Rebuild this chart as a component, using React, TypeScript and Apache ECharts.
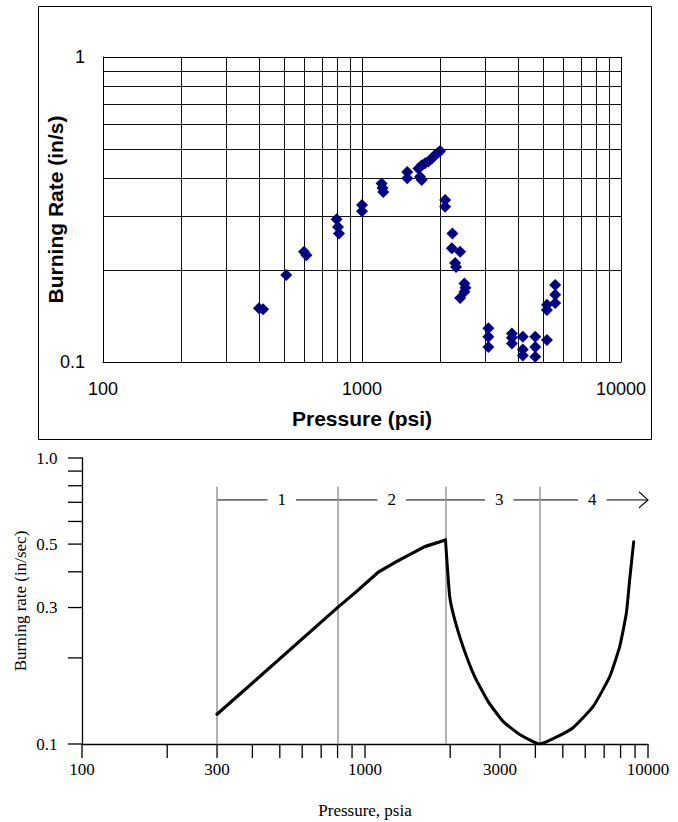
import React, { useEffect, useRef } from 'react';
import * as echarts from 'echarts';

// ---------- Top chart: measured burning rate vs pressure ----------
const topPressure = [
  400, 415, 510, 597, 610, 798, 808, 815, 1000, 1000, 1190, 1200, 1208,
  1495, 1495, 1676, 1700, 1651, 1702, 1752, 1804, 1860, 1915, 1965, 2002,
  2094, 2094, 2234, 2222, 2393, 2288, 2308, 2486, 2508, 2486, 2393,
  3076, 3076, 3076, 3791, 3791, 3791, 4178, 4178, 4178, 4665, 4665, 4665,
  5177, 5177, 5177, 5571, 5571, 5571,
];
const topRate = [
  0.150, 0.149, 0.193, 0.230, 0.224, 0.294, 0.277, 0.264, 0.327, 0.312, 0.385, 0.372, 0.361,
  0.420, 0.400, 0.405, 0.395, 0.431, 0.442, 0.448, 0.454, 0.465, 0.477, 0.485, 0.492,
  0.340, 0.323, 0.264, 0.236, 0.230, 0.211, 0.205, 0.181, 0.175, 0.170, 0.162,
  0.129, 0.121, 0.112, 0.124, 0.120, 0.115, 0.121, 0.110, 0.105, 0.121, 0.112, 0.104,
  0.118, 0.154, 0.148, 0.179, 0.166, 0.156,
];
const topXMinorGrid = [200, 300, 400, 500, 600, 700, 800, 900, 2000, 3000, 4000, 5000, 6000, 7000, 8000, 9000];
const topYMinorGrid = [0.2, 0.3, 0.4, 0.5, 0.6, 0.7, 0.8, 0.9];

// ---------- Bottom chart: schematic burning-rate curve ----------
const risePressure = [300, 803, 932, 1111, 1291, 1626, 1925];
const riseRate = [0.127, 0.301, 0.341, 0.398, 0.434, 0.49, 0.517];
const valleyPressure = [1925, 1992, 2075, 2220, 2441, 2720, 3074, 3521, 4143, 4681, 5433, 6393, 7323, 7943, 8387, 8614, 8902];
const valleyRate = [0.517, 0.328, 0.272, 0.219, 0.172, 0.141, 0.12, 0.108, 0.1, 0.105, 0.114, 0.135, 0.172, 0.219, 0.287, 0.375, 0.51];
const regionBounds = [300, 803, 1925, 4143];
const regionBoundTop = 0.794;
const regionArrowRate = 0.7135;
const regionArrowStart = 300;
const regionArrowEnd = 10000;
const regionLabels = ['1', '2', '3', '4'];
const regionLabelPressure = [508, 1243, 2980, 6353];
const bottomXTicks = [100, 200, 300, 400, 500, 600, 700, 800, 900, 1000, 2000, 3000, 4000, 5000, 6000, 7000, 8000, 9000, 10000];
const bottomXLabels = [100, 300, 1000, 3000, 10000];
const bottomYTicks = [0.1, 0.2, 0.3, 0.4, 0.5, 0.6, 0.7, 0.8, 0.9, 1.0];
const bottomYLabels = [0.1, 0.3, 0.5, 1.0];

const SANS = 'Liberation Sans, Arial, sans-serif';
const SERIF = 'Liberation Serif, Times New Roman, serif';

export default function App() {
  const ref = useRef<HTMLDivElement>(null);

  useEffect(() => {
    if (!ref.current) return;
    const chart = echarts.init(ref.current, undefined, { renderer: 'svg' });

    const option: any = {
      animation: false,
      backgroundColor: '#fff',
      graphic: [
        {
          type: 'rect',
          shape: { x: 38.5, y: 6.5, width: 613, height: 433 },
          style: { fill: 'none', stroke: '#000', lineWidth: 1 },
          silent: true,
          z: 0,
        },
      ],
      grid: [
        { left: 103, top: 57, width: 518, height: 305 },
        { left: 82, top: 458, width: 566, height: 286 },
      ],
      xAxis: [
        {
          gridIndex: 0,
          type: 'log',
          logBase: 10,
          min: 100,
          max: 10000,
          axisLine: { show: true, lineStyle: { color: '#000', width: 1 } },
          axisTick: { show: false },
          axisLabel: {
            color: '#000',
            fontSize: 18,
            fontFamily: SANS,
            margin: 18,
            formatter: (v: number) => String(Math.round(v)),
          },
          splitLine: { show: true, lineStyle: { color: '#000', width: 1 } },
          name: 'Pressure (psi)',
          nameLocation: 'middle',
          nameGap: 46,
          nameMoveOverlap: false,
          nameTextStyle: { color: '#000', fontSize: 21, fontWeight: 'bold', fontFamily: SANS },
        },
        {
          gridIndex: 1,
          type: 'log',
          logBase: 10,
          min: 100,
          max: 10000,
          axisLine: { show: true, lineStyle: { color: '#000', width: 1.3 } },
          axisTick: { show: false },
          axisLabel: { show: false },
          splitLine: { show: false },
          name: 'Pressure, psia',
          nameLocation: 'middle',
          nameGap: 58,
          nameMoveOverlap: false,
          nameTextStyle: { color: '#000', fontSize: 17, fontFamily: SERIF },
        },
      ],
      yAxis: [
        {
          gridIndex: 0,
          type: 'log',
          logBase: 10,
          min: 0.1,
          max: 1,
          axisLine: { show: true, lineStyle: { color: '#000', width: 1 } },
          axisTick: { show: false },
          axisLabel: {
            color: '#000',
            fontSize: 18,
            fontFamily: SANS,
            margin: 18,
            formatter: (v: number) => String(+Number(v).toPrecision(3)),
          },
          splitLine: { show: true, lineStyle: { color: '#000', width: 1 } },
          name: 'Burning Rate (in/s)',
          nameLocation: 'middle',
          nameGap: 37,
          nameMoveOverlap: false,
          nameTextStyle: { color: '#000', fontSize: 21, fontWeight: 'bold', fontFamily: SANS },
        },
        {
          gridIndex: 1,
          type: 'log',
          logBase: 10,
          min: 0.1,
          max: 1,
          axisLine: { show: true, lineStyle: { color: '#000', width: 1.3 } },
          axisTick: { show: false },
          axisLabel: { show: false },
          splitLine: { show: false },
          name: 'Burning rate (in/sec)',
          nameLocation: 'middle',
          nameGap: 53,
          nameMoveOverlap: false,
          nameTextStyle: { color: '#000', fontSize: 17, fontFamily: SERIF },
        },
      ],
      series: [
        // top minor gridlines
        {
          type: 'line',
          xAxisIndex: 0,
          yAxisIndex: 0,
          data: [[100, 0.1]],
          showSymbol: false,
          lineStyle: { width: 0, opacity: 0 },
          silent: true,
          z: 1,
          markLine: {
            silent: true,
            symbol: ['none', 'none'],
            label: { show: false },
            lineStyle: { color: '#111', width: 1, type: 'solid' },
            data: [
              ...topXMinorGrid.map((v) => ({ xAxis: v })),
              ...topYMinorGrid.map((v) => ({ yAxis: v })),
            ],
          },
        },
        // top measured points
        {
          type: 'scatter',
          xAxisIndex: 0,
          yAxisIndex: 0,
          symbol: 'diamond',
          symbolSize: 12,
          itemStyle: { color: '#000080', opacity: 1 },
          data: topPressure.map((p, i) => [p, topRate[i]]),
          z: 5,
        },
        // bottom region boundary lines + region arrow line
        {
          type: 'line',
          xAxisIndex: 1,
          yAxisIndex: 1,
          data: [[regionArrowStart, regionArrowRate], [regionArrowEnd, regionArrowRate]],
          showSymbol: false,
          lineStyle: { color: '#000', width: 1 },
          silent: true,
          z: 2,
          markLine: {
            silent: true,
            symbol: ['none', 'none'],
            label: { show: false },
            lineStyle: { color: '#999', width: 1.5, type: 'solid' },
            data: regionBounds.map((p) => [{ coord: [p, 0.1] }, { coord: [p, regionBoundTop] }]),
          },
        },
        // arrow head
        {
          type: 'scatter',
          xAxisIndex: 1,
          yAxisIndex: 1,
          symbol: 'path://M0,0L10,10L0,20',
          symbolSize: [9, 16],
          symbolOffset: [-4.5, 0],
          itemStyle: { color: 'rgba(0,0,0,0)', borderColor: '#000', borderWidth: 1, opacity: 1 },
          data: [[regionArrowEnd, regionArrowRate]],
          clip: false,
          silent: true,
          z: 3,
        },
        // region labels
        {
          type: 'scatter',
          xAxisIndex: 1,
          yAxisIndex: 1,
          symbolSize: 1,
          itemStyle: { color: 'rgba(0,0,0,0)', opacity: 1 },
          data: regionLabelPressure.map((p) => [p, regionArrowRate]),
          label: {
            show: true,
            position: 'inside',
            formatter: (p: any) => regionLabels[p.dataIndex],
            color: '#000',
            opacity: 1,
            textBorderWidth: 0,
            textBorderColor: 'transparent',
            fontSize: 17,
            fontFamily: SERIF,
            backgroundColor: '#fff',
            padding: [2, 10],
          },
          silent: true,
          z: 4,
        },
        // curve
        {
          type: 'line',
          xAxisIndex: 1,
          yAxisIndex: 1,
          data: risePressure.map((p, i) => [p, riseRate[i]]),
          showSymbol: false,
          smooth: false,
          lineStyle: { color: '#000', width: 3.2, cap: 'round', join: 'round' },
          z: 5,
        },
        {
          type: 'line',
          xAxisIndex: 1,
          yAxisIndex: 1,
          data: valleyPressure.map((p, i) => [p, valleyRate[i]]),
          showSymbol: false,
          smooth: 0.15,
          lineStyle: { color: '#000', width: 3, cap: 'round', join: 'round' },
          z: 5,
        },
        // bottom x ticks
        {
          type: 'scatter',
          xAxisIndex: 1,
          yAxisIndex: 1,
          symbol: 'rect',
          symbolSize: [1.3, 14],
          symbolOffset: [0, 7],
          itemStyle: { color: '#000', opacity: 1 },
          data: bottomXTicks.map((v) => [v, 0.1]),
          clip: false,
          silent: true,
          z: 6,
        },
        // bottom y ticks
        {
          type: 'scatter',
          xAxisIndex: 1,
          yAxisIndex: 1,
          symbol: 'rect',
          symbolSize: [14, 1.3],
          symbolOffset: [-7, 0],
          itemStyle: { color: '#000', opacity: 1 },
          data: bottomYTicks.map((v) => [100, v]),
          clip: false,
          silent: true,
          z: 6,
        },
        // bottom x labels
        {
          type: 'scatter',
          xAxisIndex: 1,
          yAxisIndex: 1,
          symbolSize: 1,
          itemStyle: { color: 'rgba(0,0,0,0)', opacity: 1 },
          data: bottomXLabels.map((v) => [v, 0.1]),
          clip: false,
          silent: true,
          label: {
            show: true,
            position: 'bottom',
            distance: 16,
            formatter: (p: any) => String(p.value[0]),
            color: '#000',
            fontSize: 17,
            fontFamily: SERIF,
          },
        },
        // bottom y labels
        {
          type: 'scatter',
          xAxisIndex: 1,
          yAxisIndex: 1,
          symbolSize: 1,
          itemStyle: { color: 'rgba(0,0,0,0)', opacity: 1 },
          data: bottomYLabels.map((v) => [100, v]),
          clip: false,
          silent: true,
          label: {
            show: true,
            position: 'left',
            distance: 24,
            formatter: (p: any) => Number(p.value[1]).toFixed(1),
            color: '#000',
            fontSize: 17,
            fontFamily: SERIF,
          },
        },
      ],
    };

    chart.setOption(option);
    return () => chart.dispose();
  }, []);

  return (
    <div
      ref={ref}
      style={{ position: 'fixed', left: 0, top: 0, width: 678, height: 822, background: '#fff' }}
    />
  );
}
